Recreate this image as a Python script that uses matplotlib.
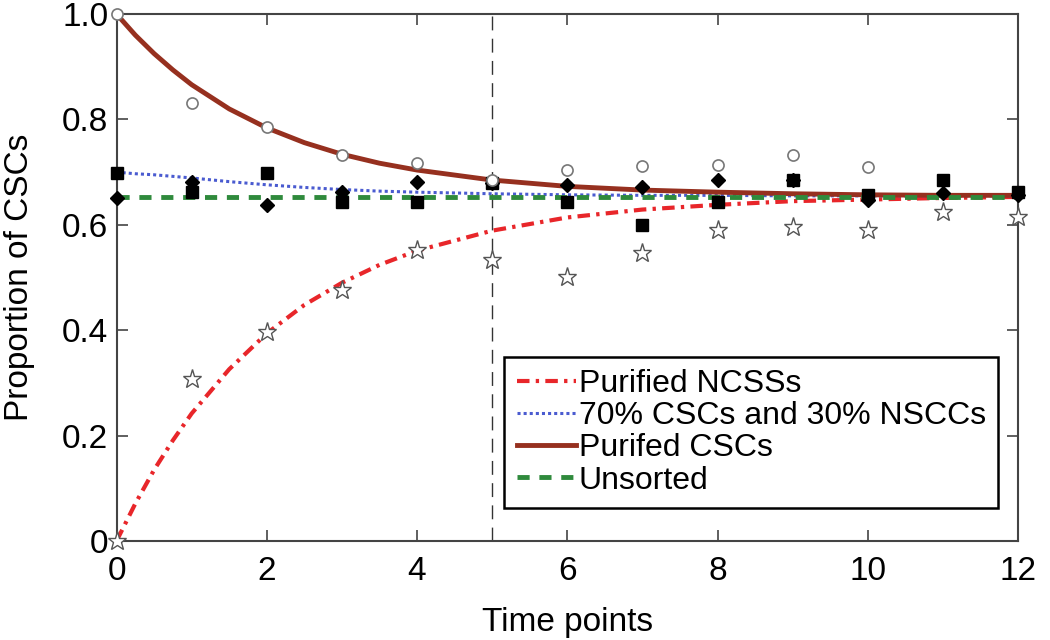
import matplotlib
matplotlib.use("Agg")
import matplotlib.pyplot as plt

plt.rcParams['font.family'] = ['Liberation Sans', 'DejaVu Sans']

# measured data points (one per time point)
time_pts = [0, 1, 2, 3, 4, 5, 6, 7, 8, 9, 10, 11, 12]
csc_time = [0, 1, 2, 3, 4, 5, 6, 7, 8, 9, 10]
csc_obs = [1.0, 0.831, 0.786, 0.733, 0.717, 0.685, 0.704, 0.712, 0.713, 0.733, 0.710]
ncsc_obs = [0.0, 0.307, 0.397, 0.476, 0.552, 0.533, 0.501, 0.546, 0.590, 0.596, 0.590, 0.624, 0.615]
mix_obs = [0.698, 0.662, 0.698, 0.643, 0.643, 0.679, 0.643, 0.600, 0.643, 0.685, 0.656, 0.685, 0.662]
unsorted_obs = [0.650, 0.681, 0.638, 0.662, 0.681, 0.679, 0.675, 0.672, 0.685, 0.685, 0.647, 0.660, 0.656]

# model curves
fit_t = [0, 0.25, 0.5, 0.75, 1, 1.5, 2, 2.5, 3, 3.5, 4, 5, 6, 7, 8, 9, 10, 11, 12]
ncsc_fit = [0.0, 0.071, 0.135, 0.191, 0.242, 0.326, 0.394, 0.448, 0.490, 0.524, 0.551,
            0.589, 0.614, 0.629, 0.638, 0.645, 0.648, 0.651, 0.653]
mix_fit = [0.700, 0.697, 0.695, 0.692, 0.689, 0.682, 0.676, 0.671, 0.667, 0.664, 0.662,
           0.659, 0.657, 0.656, 0.656, 0.655, 0.655, 0.655, 0.655]
csc_fit = [1.0, 0.960, 0.925, 0.894, 0.866, 0.820, 0.784, 0.756, 0.734, 0.717, 0.704,
           0.685, 0.673, 0.666, 0.662, 0.659, 0.657, 0.656, 0.656]
unsorted_t = [0, 12]
unsorted_fit = [0.653, 0.653]

labels = ['Purified NCSSs', '70% CSCs and 30% NSCCs', 'Purifed CSCs', 'Unsorted']

fig, ax = plt.subplots(figsize=(10.5, 6.4), dpi=100)
fig.subplots_adjust(left=0.111, right=0.9695, bottom=0.1547, top=0.978)

# fitted lines
ax.plot(fit_t, ncsc_fit, color='#e8262a', lw=3, ls=(0, (3, 1.5, 0.8, 1.5)), label=labels[0], zorder=2)
ax.plot(fit_t, mix_fit, color='#4a5bd0', lw=2.2, ls=(0, (1, 1)), label=labels[1], zorder=2)
ax.plot(fit_t, csc_fit, color='#96301f', lw=3.5, ls='-', label=labels[2], zorder=2)
ax.plot(unsorted_t, unsorted_fit, color='#2f8a3c', lw=3.5, ls=(0, (2.5, 2)), label=labels[3], zorder=2)

# observations
ax.plot(time_pts, mix_obs, 's', color='black', ms=8, ls='none', zorder=3, clip_on=False)
ax.plot(time_pts, unsorted_obs, 'D', color='black', ms=7.5, ls='none', zorder=3, clip_on=False)
ax.plot(csc_time, csc_obs, 'o', mfc='white', mec='#777777', ms=8, mew=1.2, ls='none', zorder=4, clip_on=False)
ax.plot(time_pts, ncsc_obs, '*', mfc='white', mec='#555555', ms=14, mew=1.0, ls='none', zorder=4, clip_on=False)

# switch time
ax.axvline(5, color='#333333', lw=1, ls=(0, (10, 6)), zorder=1)

ax.set_xlim(0, 12)
ax.set_ylim(0, 1.0)
ax.set_xticks([0, 2, 4, 6, 8, 10, 12])
ax.set_yticks([0, 0.2, 0.4, 0.6, 0.8, 1.0])
ax.set_yticklabels(['0', '0.2', '0.4', '0.6', '0.8', '1.0'])
ax.tick_params(direction='in', length=8, width=1.2, top=True, right=True,
               labelsize=24, color='#444444', pad=6)
ax.tick_params(axis='x', pad=11)
for s in ax.spines.values():
    s.set_color('#444444')
    s.set_linewidth(1.5)

ax.set_xlabel('Time points', fontsize=24)
ax.set_ylabel('Proportion of CSCs', fontsize=24)
ax.xaxis.set_label_coords(0.5, -0.126)
ax.yaxis.set_label_coords(-0.091, 0.5)

leg = ax.legend(loc='lower right', bbox_to_anchor=(0.978, 0.063), fontsize=23,
                frameon=True, fancybox=False, framealpha=1, edgecolor='black',
                borderaxespad=0, borderpad=0.38, handlelength=1.85, handletextpad=0.1,
                labelspacing=0.07)
leg.get_frame().set_linewidth(1.8)

fig.savefig('out.png', dpi=100)
